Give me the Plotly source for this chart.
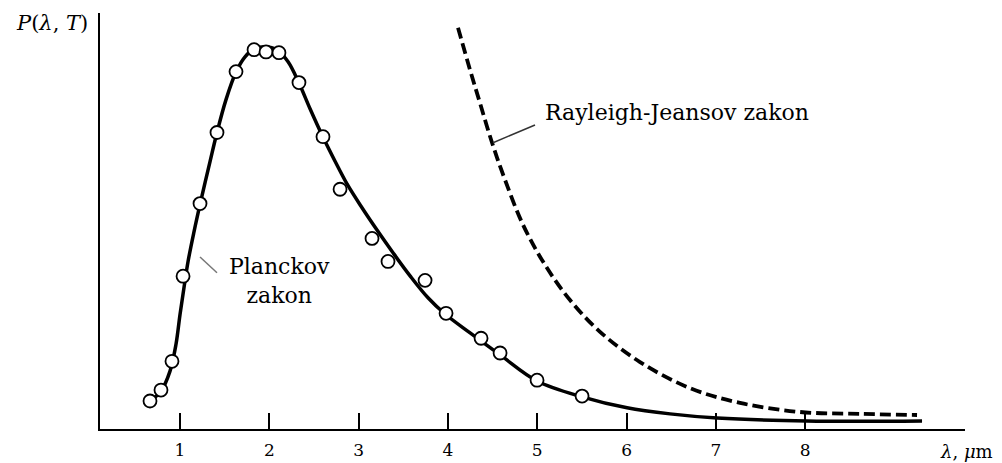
import plotly.graph_objects as go

# Measured data points (open circles)
meas_x = [0.664, 0.787, 0.910, 1.034, 1.224, 1.414, 1.627, 1.829, 1.963, 2.108, 2.332,
          2.601, 2.792, 3.150, 3.329, 3.744, 3.979, 4.371, 4.584, 4.998, 5.502]
meas_y = [7.4, 10.3, 17.9, 40.4, 59.6, 78.4, 94.5, 100.3, 99.7, 99.5, 91.6,
          77.3, 63.4, 50.4, 44.3, 39.3, 30.6, 24.0, 20.1, 12.9, 8.7]

# Planck law curve
planck_x = [0.664, 0.787, 0.888, 0.955, 1.000, 1.045, 1.090, 1.157, 1.224, 1.336, 1.414,
            1.515, 1.627, 1.728, 1.829, 1.952, 2.086, 2.210, 2.332, 2.456, 2.601, 2.736,
            2.870, 3.038, 3.206, 3.385, 3.576, 3.777, 3.968, 4.248, 4.584, 4.998, 5.502,
            6.006, 6.487, 7.014, 8.021, 9.309]
planck_y = [7.4, 10.0, 15.3, 22.4, 30.3, 37.5, 44.3, 52.2, 59.4, 70.7, 78.4,
            87.1, 94.4, 98.4, 100.5, 101.1, 100.3, 97.1, 91.5, 84.7, 77.2, 70.8,
            64.8, 58.5, 52.6, 46.6, 40.5, 34.7, 30.4, 25.4, 19.6, 12.7, 8.5,
            5.6, 4.0, 2.9, 2.1, 2.1]

# Rayleigh-Jeans law curve
rj_x = [4.113, 4.247, 4.359, 4.494, 4.639, 4.841, 5.087, 5.367, 5.703, 6.151, 6.711,
        7.271, 7.943, 8.615, 9.253]
rj_y = [106.1, 95.0, 86.2, 75.7, 65.9, 54.0, 43.4, 34.1, 25.7, 17.7, 10.8,
        6.9, 4.5, 4.0, 3.7]

tick_vals = [1, 2, 3, 4, 5, 6, 7, 8]
tick_text = ["1", "2", "3", "4", "5", "6", "7", "8"]

# leader lines for labels
lead_planck_x = [1.224, 1.414]
lead_planck_y = [45.5, 41.3]
lead_rj_x = [4.505, 4.975]
lead_rj_y = [75.7, 80.4]

SERIF = "DejaVu Serif"

fig = go.Figure()
fig.add_trace(go.Scatter(x=rj_x, y=rj_y, mode="lines", line=dict(color="black", width=3.8, dash="11px,5px"),
                         line_shape="spline", hoverinfo="skip", showlegend=False))
fig.add_trace(go.Scatter(x=planck_x, y=planck_y, mode="lines", line=dict(color="black", width=3.5),
                         line_shape="spline", hoverinfo="skip", showlegend=False))
fig.add_trace(go.Scatter(x=meas_x, y=meas_y, mode="markers",
                         marker=dict(symbol="circle", size=13, color="white", line=dict(color="black", width=1.8)),
                         showlegend=False))
fig.add_trace(go.Scatter(x=lead_planck_x, y=lead_planck_y, mode="lines", line=dict(color="#777777", width=1.5),
                         hoverinfo="skip", showlegend=False))
fig.add_trace(go.Scatter(x=lead_rj_x, y=lead_rj_y, mode="lines", line=dict(color="#333333", width=1.5),
                         hoverinfo="skip", showlegend=False))

fig.add_annotation(x=2.109, y=39.2, xref="x", yref="y", text="Planckov<br>zakon", showarrow=False,
                   xanchor="center", yanchor="middle", font=dict(family=SERIF, size=22, color="black"))
fig.add_annotation(x=5.065, y=83.6, xref="x", yref="y", text="Rayleigh-Jeansov zakon", showarrow=False,
                   xanchor="left", yanchor="middle", font=dict(family=SERIF, size=22, color="black"))
fig.add_annotation(x=-0.012, y=0.975, xref="paper", yref="paper", text="<i>P</i>(<i>λ</i>, <i>T</i>)",
                   showarrow=False, xanchor="right", yanchor="middle", font=dict(family=SERIF, size=21, color="black"))
fig.add_annotation(x=0.969, y=-0.055, xref="paper", yref="paper", text="<i>λ</i>, <i>μ</i>m",
                   showarrow=False, xanchor="left", yanchor="middle", font=dict(family=SERIF, size=18, color="black"))

fig.update_layout(
    width=1002, height=463,
    margin=dict(l=100, r=37, t=13, b=34, autoexpand=False),
    paper_bgcolor="white", plot_bgcolor="white",
    xaxis=dict(range=[0.104, 9.79], showline=True, linecolor="black", linewidth=2, showgrid=False,
               zeroline=False, ticks="inside", ticklen=16, tickwidth=1.5, tickcolor="black",
               tickvals=tick_vals, ticktext=tick_text, ticklabelstandoff=5, automargin=False,
               tickfont=dict(family=SERIF, size=17, color="black")),
    yaxis=dict(range=[0, 110], showline=True, linecolor="black", linewidth=2, showgrid=False,
               zeroline=False, showticklabels=False, ticks="", automargin=False),
)

fig.write_html("out.html", config={"displayModeBar": False},
               post_script="document.body.style.margin='0';")
